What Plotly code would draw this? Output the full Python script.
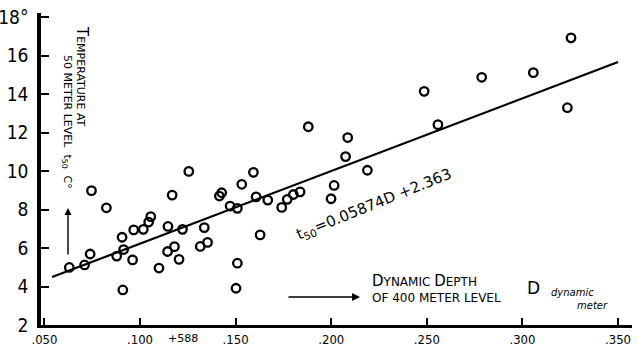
import plotly.graph_objects as go

# Observations: dynamic depth of 400 m level (D) vs temperature at 50 m (t50)
D = [0.0630, 0.0710, 0.0739, 0.0746, 0.0824, 0.0878, 0.0906, 0.0914, 0.0910, 0.0961,
     0.0967, 0.1017, 0.1045, 0.1056, 0.1099, 0.1144, 0.1146, 0.1168, 0.1180, 0.1204,
     0.1222, 0.1255, 0.1315, 0.1336, 0.1353, 0.1415, 0.1427, 0.1471, 0.1509, 0.1509,
     0.1502, 0.1532, 0.1593, 0.1607, 0.1628, 0.1668, 0.1741, 0.1770, 0.1802, 0.1837,
     0.1880, 0.1999, 0.2015, 0.2075, 0.2086, 0.2189, 0.2486, 0.2558, 0.2787, 0.3057,
     0.3254, 0.3235]
T50 = [4.99, 5.12, 5.69, 8.98, 8.09, 5.58, 6.56, 5.92, 3.82, 5.38,
       6.94, 6.97, 7.35, 7.63, 4.96, 5.82, 7.12, 8.75, 6.07, 5.41,
       6.97, 9.98, 6.08, 7.06, 6.29, 8.70, 8.87, 8.18, 8.06, 5.21,
       3.91, 9.31, 9.93, 8.66, 6.68, 8.49, 8.11, 8.53, 8.78, 8.92,
       12.30, 8.56, 9.25, 10.75, 11.74, 10.04, 14.14, 12.41, 14.87, 15.11,
       16.92, 13.29]

# Fitted regression line (end points as drawn)
LINE_D = [0.054, 0.350]
LINE_T = [4.49, 15.66]

X_TICKS = [0.05, 0.10, 0.15, 0.20, 0.25, 0.30, 0.35]
X_TICK_TEXT = [".050", ".100", ".150", ".200", ".250", ".300", ".350"]
Y_TICKS = [2, 4, 6, 8, 10, 12, 14, 16, 18]
Y_TICK_TEXT = ["2", "4", "6", "8", "10", "12", "14", "16", "18°"]

W, H = 639, 347
ML, MR, MT, MB = 41, 7, 13, 22
PW, PH = W - ML - MR, H - MT - MB


def px(x):
    return (x - ML) / PW


def py(y):
    return (H - MB - y) / PH


FONT = "Liberation Sans Narrow, DejaVu Sans Condensed, Liberation Sans, sans-serif"
LFONT = "DejaVu Sans, sans-serif"


def label(x, y, text, size, angle=0, xanchor="center"):
    return dict(x=px(x), y=py(y), xref="paper", yref="paper", text=text,
                textangle=angle, xanchor=xanchor, yanchor="middle",
                showarrow=False, font=dict(family=LFONT, size=size, color="black"))


fig = go.Figure()
fig.add_trace(go.Scatter(x=LINE_D, y=LINE_T, mode="lines",
                         line=dict(color="black", width=2.2), hoverinfo="skip",
                         showlegend=False))
fig.add_trace(go.Scatter(x=D, y=T50, mode="markers",
                         marker=dict(symbol="circle-open", size=8.5, color="black",
                                     line=dict(width=2.3, color="black")),
                         showlegend=False))

ann = []
# Y-axis label (vertical)
ann.append(label(82, 76, "<span style='font-size:15px'>T</span>EMPERATURE AT", 11, 90))
ann.append(label(67, 122, "50 METER LEVEL  t<sub>50</sub>  C°", 11, 90))
# upward arrow
ann.append(dict(x=px(68), y=py(208), xref="paper", yref="paper", text="",
                showarrow=True, ax=0, ay=48, arrowhead=2, arrowsize=1,
                arrowwidth=1.4, arrowcolor="black"))
# X label
ann.append(label(370, 281, "<span style='font-size:15px'>D</span>YNAMIC "
                 "<span style='font-size:15px'>D</span>EPTH", 12, xanchor="left"))
ann.append(label(370, 298, "OF 400 METER LEVEL", 12, xanchor="left"))
ann.append(label(533, 288, "D", 17))
ann.append(label(572, 292, "<i>dynamic</i>", 10))
ann.append(label(592, 305, "<i>meter</i>", 10))
# right arrow
ann.append(dict(x=px(360), y=py(297), xref="paper", yref="paper", text="",
                showarrow=True, ax=-73, ay=0, arrowhead=2, arrowsize=1,
                arrowwidth=1.6, arrowcolor="black"))
# Equation
ann.append(label(374, 204, "t<sub>50</sub>=0.05874D +2.363", 15, -22))
# stray note by .100 label
ann.append(label(183, 338, "+588", 11))

fig.update_layout(
    width=W, height=H,
    margin=dict(l=ML, r=MR, t=MT, b=MB, pad=0, autoexpand=False),
    paper_bgcolor="white", plot_bgcolor="white",
    annotations=ann,
    xaxis=dict(range=[0.0482, 0.3573], tickvals=X_TICKS, ticktext=X_TICK_TEXT,
               automargin=False,
               showgrid=False, zeroline=False, showline=True, linecolor="black",
               linewidth=3, ticks="inside", ticklen=7, tickwidth=1.5,
               tickcolor="black", ticklabelstandoff=0,
               tickfont=dict(family=FONT, size=13, color="black")),
    yaxis=dict(range=[2, 18.21], tickvals=Y_TICKS, ticktext=Y_TICK_TEXT,
               automargin=False,
               showgrid=False, zeroline=False, showline=True, linecolor="black",
               linewidth=3.5, ticks="inside", ticklen=8, tickwidth=1.5,
               tickcolor="black", ticklabelstandoff=5,
               tickfont=dict(family=FONT, size=19, color="black")),
)

fig.write_html("out.html")
